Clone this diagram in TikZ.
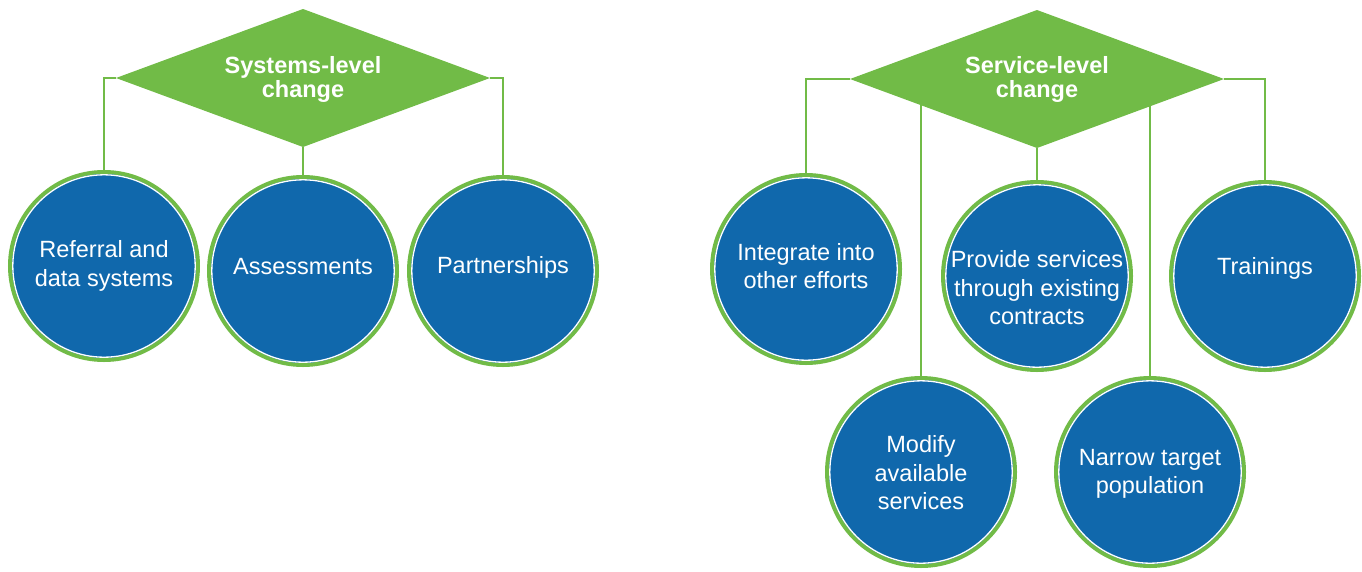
\documentclass[tikz,border=0pt]{standalone}
\usepackage{fontspec}
\setmainfont{Liberation Sans}
\usetikzlibrary{shapes.geometric,backgrounds}
\definecolor{lgreen}{RGB}{113,187,71}
\definecolor{dblue}{RGB}{16,104,172}
\begin{document}
\begin{tikzpicture}[x=1pt,y=-1pt,
  bub/.style={circle, fill=dblue, draw=lgreen, line width=4pt, minimum size=188pt, inner sep=0pt},
  lbl/.style={text=white, align=center, inner sep=0pt, font=\fontsize{23.5}{28.5}\selectfont},
  dia/.style={diamond, fill=lgreen, inner sep=0pt, outer sep=0pt, minimum width=374pt, minimum height=138pt},
  ttl/.style={text=white, align=center, inner sep=0pt, font=\fontsize{23.5}{24}\selectfont\bfseries},
  conn/.style={draw=lgreen, line width=1.5pt}]
\useasboundingbox (0,0) rectangle (1362,571);

% systems-level group
\node[dia] (sd) at (303,78) {};
\node[ttl] (st) at (303,79) {Systems-level\\change};
\node[bub] (c1) at (104,266) {};
\node[bub] (c2) at (303,271) {};
\node[bub] (c3) at (503,271) {};
\node[lbl] (t1) at (104,266) {Referral and\\data systems};
\node[lbl] (t2) at (303,267) {Assessments};
\node[lbl] (t3) at (503,267) {Partnerships};

% service-level group
\node[dia] (vd) at (1037,79) {};
\node[ttl] (vt) at (1037,79) {Service-level\\change};
\node[bub] (r1) at (806,269) {};
\node[bub] (r2) at (1037,276) {};
\node[bub] (r3) at (1265,276) {};
\node[bub] (r4) at (921,472) {};
\node[bub] (r5) at (1150,472) {};
\node[lbl] (u1) at (806,266) {Integrate into\\other efforts};
\node[lbl] (u2) at (1037,288) {Provide services\\through existing\\contracts};
\node[lbl] (u3) at (1265,268) {Trainings};
\node[lbl] (u4) at (921,473) {Modify\\available\\services};
\node[lbl] (u5) at (1150,474) {Narrow target\\population};

% thin white inner rings
\foreach \n in {c1,c2,c3,r1,r2,r3,r4,r5}
  \draw[white, line width=1.3pt] (\n.center) circle[radius=91.2pt];

\begin{pgfonlayer}{background}
\draw[conn] (sd.west) -| (c1.north);
\draw[conn] (sd.south) -- (c2.north);
\draw[conn] (sd.east) -| (c3.north);
\draw[conn] (vd.west) -| (r1.north);
\draw[conn] (vd.south) -- (r2.north);
\draw[conn] (vd.east) -| (r3.north);
\draw[conn] (r4.north |- vd.center) -- (r4.north);
\draw[conn] (r5.north |- vd.center) -- (r5.north);
\end{pgfonlayer}
\end{tikzpicture}
\end{document}
